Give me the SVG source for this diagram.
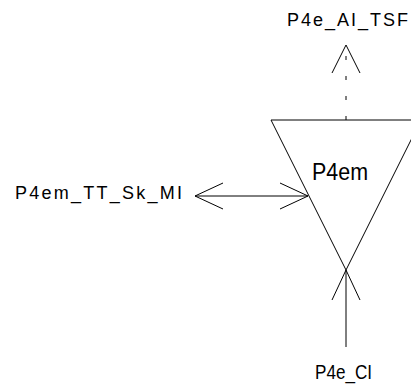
<svg xmlns="http://www.w3.org/2000/svg" width="411" height="385" viewBox="0 0 411 385">
<style>
.ln{stroke:#000;stroke-width:1;fill:none}
.t{font-family:"Liberation Sans",Arial,sans-serif;fill:#000}
</style>
<rect width="411" height="385" fill="#fff"/>
<g id="node-P4em">
<polygon class="ln" points="271,120 421,120 346,270"/>
<text class="t" x="312" y="180" font-size="24" textLength="56" lengthAdjust="spacingAndGlyphs">P4em</text>
</g>
<g id="node-P4e_AI_TSF">
<text class="t" x="287" y="26" font-size="18" textLength="121" lengthAdjust="spacing">P4e_AI_TSF</text>
</g>
<g id="node-P4em_TT_Sk_MI">
<text class="t" x="15" y="199" font-size="18" textLength="167" lengthAdjust="spacing">P4em_TT_Sk_MI</text>
</g>
<g id="node-P4e_CI">
<text class="t" x="315" y="379" font-size="21" textLength="57" lengthAdjust="spacingAndGlyphs">P4e_CI</text>
</g>
<g id="connectors">
<line class="ln" x1="346" y1="120" x2="346" y2="45" stroke-dasharray="4,16"/>
<polyline class="ln" points="332,73 346,45 360,73"/>
<line class="ln" x1="195" y1="196" x2="308" y2="196"/>
<polyline class="ln" points="223,183 195,196 223,209"/>
<polyline class="ln" points="280,183 308,196 280,209"/>
<line class="ln" x1="346" y1="347" x2="346" y2="270"/>
<polyline class="ln" points="332,300 346,270 360,300"/>
</g>
</svg>
